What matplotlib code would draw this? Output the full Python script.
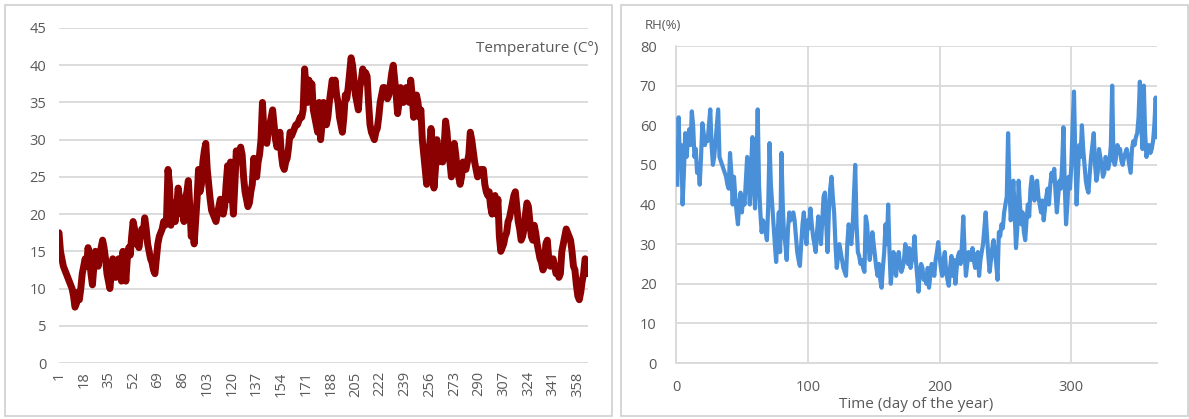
import matplotlib
matplotlib.use("Agg")
import matplotlib.pyplot as plt
from matplotlib.patches import Rectangle

# ---------------- data ----------------
temperature = [
    17.5, 15, 14, 13, 12.5, 12, 11.5, 11, 10.5, 10,
    9, 7.5, 8, 9.5, 8.5, 10, 12, 13, 14, 13,
    15.5, 14, 12, 10.5, 13, 15, 14, 13, 14.5, 15.5,
    16.5, 15.5, 14, 12, 11, 10, 12, 14, 13, 11.5,
    13, 14, 12, 11, 15, 13, 11, 14, 15.5, 14.5,
    17, 19, 18, 16, 16.5, 15.5, 17, 18, 17.5, 19.5,
    18, 16, 15, 14, 13.5, 12.5, 12, 14, 16, 17,
    17.5, 18, 19, 18.5, 19.5, 26, 24, 18.5, 21.5, 20,
    19, 21, 23.5, 22, 20, 21, 19, 22, 23, 24.5,
    21, 17, 18, 16, 19, 22, 26, 23, 24, 27,
    28.5, 29.5, 26, 24, 22, 20.5, 20, 19.5, 19, 20,
    21, 22, 21.5, 20, 21, 24, 26.5, 22, 27, 23,
    20, 24, 28.5, 27, 28, 29, 28, 25, 23, 22,
    21, 21.5, 23, 24, 27.5, 26, 25, 27, 28, 30,
    35, 31, 30, 29.5, 31, 32, 33, 34, 32, 30,
    29, 30, 31, 28, 26.5, 26, 27, 27.5, 29, 31,
    30.5, 31, 31.5, 32, 32, 32.5, 33, 33, 34, 39.5,
    37, 35, 38, 36, 37.5, 34, 33, 32, 31, 35,
    30, 32, 35, 34, 32, 33, 35, 36.5, 38, 37,
    38, 36, 35, 33, 32, 31, 33, 36, 35.5, 37,
    39, 41, 40, 38, 36, 35, 34, 37, 38, 39.5,
    38, 39, 38.5, 35, 32, 31, 30.5, 30, 31, 31.5,
    33, 35, 36, 37, 37, 36, 35.5, 36, 37.5, 39,
    40, 38, 36, 33.5, 35, 37, 36, 35, 36, 37,
    36, 35, 38, 36, 33, 34, 36, 35, 33, 34,
    30, 28, 26, 24, 27, 29, 31.5, 29, 23.5, 26,
    30, 27, 28, 29, 27, 29, 32.5, 31, 28, 27,
    25, 26, 29.5, 28, 26, 25, 24, 25, 27, 26.5,
    26, 27, 28, 31, 30, 28.5, 27, 26, 25, 25.5,
    26, 25.5, 26, 24, 23, 22.5, 23, 21, 20, 21.5,
    22.5, 20, 22, 17, 15, 15.5, 16, 17, 17.5, 19,
    19.5, 20.5, 21.5, 22.5, 23, 21, 19, 18, 16.5, 17,
    18, 20, 21.5, 21, 19, 17, 16.5, 18.5, 17.5, 16,
    15, 14, 13.5, 12.5, 13, 16, 16.5, 14, 13, 13.5,
    14, 13, 12, 12.5, 11.5, 12, 15, 16, 17, 18,
    17.5, 17, 16.5, 15, 13, 12.5, 10.5, 9, 8.5, 9.5,
    11, 12, 14, 13.5, 12,
]

rh = [
    45, 62, 50, 55, 40, 48, 58, 52, 56, 59,
    55, 63.5, 60, 52, 54, 48, 50, 45, 52, 60.5,
    58, 55, 57, 56, 60, 64, 55, 50, 52, 56,
    60, 64, 52, 51, 50, 49, 48, 47, 45, 44,
    53, 48, 40, 47, 42, 38, 35, 40, 43, 38,
    42, 40, 46, 52, 48, 40, 50, 57, 45, 39,
    50, 64, 45, 38, 33, 36, 35, 33, 31, 40,
    55.5, 45, 40, 35, 30, 25.5, 32, 38, 28, 53,
    40, 32, 30, 26, 34, 38, 36, 37, 38, 36,
    32, 28, 26, 24.5, 30, 35, 38, 33, 30, 36,
    34, 39, 35, 32, 30, 28, 33, 37, 34, 30,
    36, 42, 43, 35, 28, 38, 44, 47, 42, 38,
    30, 24, 27, 30, 28, 26, 24, 23, 22, 30,
    35, 33, 30, 34, 42, 50, 35, 28, 27, 25,
    26, 24, 23, 37, 35, 30, 26, 29, 33, 30,
    27, 24, 22, 25, 21, 19, 24, 28, 35, 30,
    40, 28, 20, 24, 28, 24, 22, 26, 28, 25,
    23, 24, 26, 30, 27, 25, 29, 24, 26, 28,
    32, 26, 22, 18, 23, 25, 24, 21, 22, 20,
    24, 19, 22, 25, 24, 22, 26, 28, 30.5, 27,
    24, 22, 26, 28, 23, 21, 19.5, 24, 27, 22,
    26, 20, 24, 27, 28, 25, 30, 37, 28, 22,
    25, 28, 27, 26, 29, 26, 24, 27, 28, 22,
    26, 28, 30, 34, 38, 32, 27, 23, 26, 29,
    31, 28, 25, 21, 33, 32, 35, 34, 38, 40,
    42, 58, 45, 36, 40, 46, 38, 29, 34, 46,
    40, 35, 38, 33, 31, 36, 40, 37, 44, 47,
    45, 41, 44, 46, 42, 40, 38, 41, 36, 39,
    42, 44, 40, 45, 48, 46, 49, 43, 38, 42,
    46, 44, 50, 59.5, 45, 35, 40, 47, 44, 50,
    60, 68.5, 52, 40, 48, 55, 52, 60, 54, 50,
    46, 44, 43, 48, 52, 55, 58, 50, 46, 48,
    54, 52, 50, 47, 48, 52, 50, 49, 51, 55,
    70, 51, 50, 52, 55, 53, 54, 51, 50, 52,
    53, 54, 52, 50, 48, 54, 56, 55, 57, 58,
    62, 71, 60, 54, 70, 58, 52, 54, 55, 53,
    54, 56, 60, 67, 57,
]

days = list(range(1, len(temperature) + 1))
rh_days = list(range(1, len(rh) + 1))
temp_tick_labels = [str(d) for d in range(1, 366, 17)]
temp_yticks = list(range(0, 50, 5))
rh_yticks = list(range(0, 90, 10))
rh_xticks = [0, 100, 200, 300]

# ---------------- style ----------------
plt.rcParams['font.family'] = ['Open Sans', 'DejaVu Sans']
txt = '#595959'
grid = '#d9d9d9'

W, H = 1189, 419
fig = plt.figure(figsize=(W / 100, H / 100), dpi=100)
fig.patch.set_facecolor('white')

def px(x0, y0, x1, y1):
    return [x0 / W, 1 - y1 / H, (x1 - x0) / W, (y1 - y0) / H]

# panel borders
fig.patches.append(Rectangle((5 / W, 1 - 416 / H), (612 - 5) / W, (416 - 5) / H,
                             transform=fig.transFigure, fill=False,
                             edgecolor='#d0d0d0', lw=1.2))
fig.patches.append(Rectangle((621 / W, 1 - 416 / H), (1188 - 621) / W, (416 - 5) / H,
                             transform=fig.transFigure, fill=False,
                             edgecolor='#d0d0d0', lw=1.2))

# ---------- left: temperature ----------
ax1 = fig.add_axes(px(59, 28, 588, 363))
ax1.plot(days, temperature, color='#8b0000', lw=5.0,
         solid_joinstyle='round', solid_capstyle='round', zorder=3)
ax1.set_xlim(1, 365)
ax1.set_ylim(0, 45)
ax1.set_yticks(temp_yticks)
ax1.set_xticks(list(range(1, 366, 17)))
ax1.set_xticklabels(temp_tick_labels, rotation=90)
ax1.grid(axis='y', color=grid, lw=1.3)
ax1.set_axisbelow(True)
for s in ax1.spines.values():
    s.set_visible(False)
ax1.tick_params(axis='both', length=0, colors=txt, labelsize=10.5)
ax1.tick_params(axis='y', pad=9)
ax1.tick_params(axis='x', pad=6)
ax1.text(1.02, 0.94, 'Temperature (C°)', transform=ax1.transAxes,
         ha='right', va='center', fontsize=11, color=txt)

# ---------- right: RH ----------
ax2 = fig.add_axes(px(676, 46, 1157, 363))
ax2.plot(rh_days, rh, color='#4a90d9', lw=3.0,
         solid_joinstyle='round', zorder=3)
ax2.set_xlim(0, 365)
ax2.set_ylim(0, 80)
ax2.set_yticks(rh_yticks)
ax2.set_xticks(rh_xticks)
ax2.grid(True, color=grid, lw=1.3)
ax2.set_axisbelow(True)
for k, s in ax2.spines.items():
    if k in ('left', 'bottom'):
        s.set_color(grid)
        s.set_linewidth(1.3)
    else:
        s.set_visible(False)
ax2.tick_params(axis='both', length=0, colors=txt, labelsize=10.5)
ax2.tick_params(axis='y', pad=14)
ax2.tick_params(axis='x', pad=12)
fig.text(916 / W, 1 - 404 / H, 'Time (day of the year)', ha='center',
         va='center', fontsize=11, color=txt)
ax2.text(-0.064, 1.065, 'RH(%)', transform=ax2.transAxes,
         ha='left', va='center', fontsize=9.5, color=txt)

fig.savefig('out.png', dpi=100, facecolor='white')
